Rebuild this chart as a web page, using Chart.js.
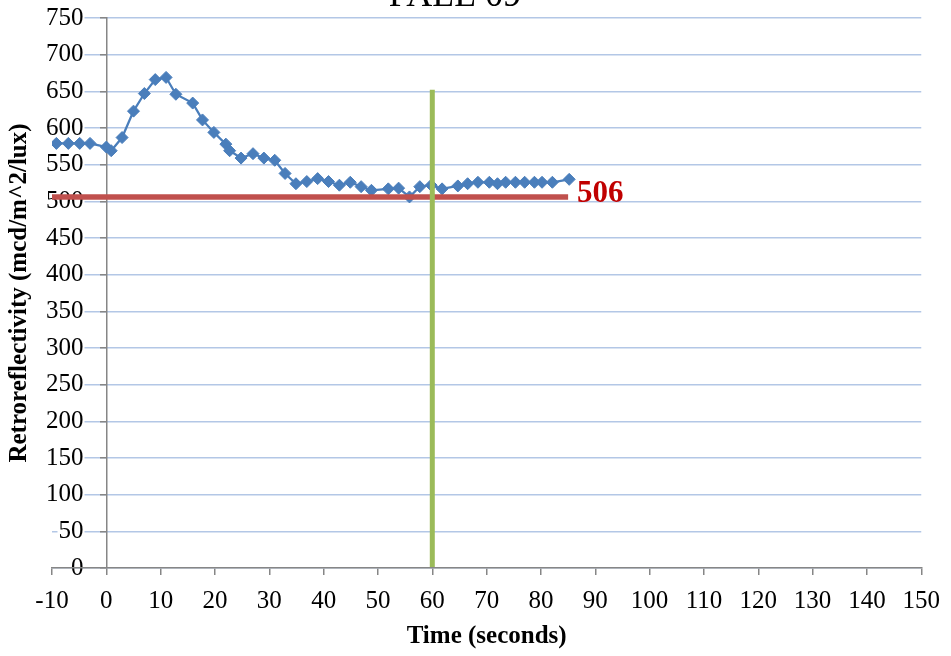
<!DOCTYPE html>
<html>
<head>
<meta charset="utf-8">
<script src="https://cdn.jsdelivr.net/npm/chart.js@4/dist/chart.umd.min.js"></script>
<style>
html,body{margin:0;padding:0;background:#fff;}
#wrap{width:951px;height:656px;position:relative;overflow:hidden;}
canvas{display:block;}
</style>
</head>
<body>
<div id="wrap"><canvas id="c" width="951" height="656"></canvas></div>
<script>
const chartTitle = 'FALL 09';
const xAxisTitle = 'Time (seconds)';
const yAxisTitle = 'Retroreflectivity (mcd/m^2/lux)';

const timeSeconds = [-9.2, -7.0, -4.9, -3.0, 0.0, 0.9, 2.9, 5.0, 7.0, 9.0, 11.0, 12.8,
  15.9, 17.7, 19.8, 22.0, 22.7, 24.8, 27.0, 29.0, 31.0, 32.9, 34.9, 36.9, 38.9,
  40.9, 42.9, 44.9, 46.9, 48.8, 51.9, 53.8, 55.8, 57.7, 59.8, 61.8, 64.7, 66.5,
  68.4, 70.5, 72.0, 73.5, 75.3, 77.0, 78.8, 80.2, 82.1, 85.2];
const retroValues = [579, 579, 579, 579, 574, 569, 587, 623, 647, 666, 669, 646,
  634, 611, 594, 578, 569, 559, 565, 559, 556, 538, 524, 527, 531,
  527, 522, 526, 520, 515, 517, 518, 506, 520, 522, 517, 521, 524,
  526, 526, 524, 526, 526, 526, 526, 526, 526, 530];

const thresholdValue = 506;
const thresholdTimes = [-10, 85];
const cutoffTime = 60;
const cutoffRange = [0, 652];

const xTickValues = [-10, 0, 10, 20, 30, 40, 50, 60, 70, 80, 90, 100, 110, 120, 130, 140, 150];
const yTickValues = [0, 50, 100, 150, 200, 250, 300, 350, 400, 450, 500, 550, 600, 650, 700, 750];

const FONT = "'Liberation Serif', 'Times New Roman', serif";
Chart.defaults.font.family = FONT;
Chart.defaults.color = '#000';

const annotations = {
  id: 'annotations',
  afterDatasetsDraw(chart) {
    const {ctx, scales: {x, y}} = chart;
    ctx.save();
    ctx.fillStyle = '#000';
    ctx.font = "36px " + FONT;
    ctx.textAlign = 'center';
    ctx.textBaseline = 'alphabetic';
    ctx.fillText(chartTitle, 455, 6);
    ctx.fillStyle = '#c00000';
    ctx.font = "bold 31px " + FONT;
    ctx.textAlign = 'left';
    ctx.textBaseline = 'middle';
    ctx.fillText(String(thresholdValue), x.getPixelForValue(thresholdTimes[1]) + 9, y.getPixelForValue(thresholdValue) - 3);
    ctx.restore();
  }
};

new Chart(document.getElementById('c'), {
  type: 'scatter',
  data: {
    datasets: [
      {
        label: 'cutoff',
        data: cutoffRange.map(v => ({x: cutoffTime, y: v})),
        showLine: true, borderColor: '#9bbb59', borderWidth: 5,
        pointRadius: 0, order: 0, xAxisID: 'x', yAxisID: 'y'
      },
      {
        label: 'threshold',
        data: thresholdTimes.map(t => ({x: t, y: thresholdValue})),
        showLine: true, borderColor: '#c0504d', borderWidth: 5.5,
        pointRadius: 0, order: 1, xAxisID: 'x', yAxisID: 'y'
      },
      {
        label: 'retro',
        data: timeSeconds.map((t, i) => ({x: t, y: retroValues[i]})),
        showLine: true, borderColor: '#4a7ebb', borderWidth: 2.25,
        pointStyle: 'rectRot', pointRadius: 6,
        pointBackgroundColor: '#4a7ebb', pointBorderColor: '#4a7ebb', pointBorderWidth: 1,
        order: 2, xAxisID: 'x', yAxisID: 'y'
      }
    ]
  },
  options: {
    responsive: false,
    animation: false,
    layout: {padding: {left: 0, top: 18, right: 25, bottom: 0}},
    plugins: {legend: {display: false}, tooltip: {enabled: false}},
    scales: {
      x: {
        type: 'linear', position: 'bottom', min: -10, max: 150,
        afterBuildTicks: s => { s.ticks = xTickValues.map(v => ({value: v})); },
        afterFit: s => { s.height = 88; },
        grid: {drawOnChartArea: false, drawTicks: true, tickLength: 7, tickColor: '#868686', lineWidth: 1.5},
        border: {color: '#868686', width: 1.5, z: 1},
        ticks: {font: {size: 25}, padding: 11, color: '#000', maxRotation: 0, autoSkip: false},
        title: {display: true, text: xAxisTitle, font: {size: 25, weight: 'bold'}, padding: {top: 0, bottom: 4}, color: '#000'}
      },
      y: {
        type: 'linear', position: {x: 0}, min: 0, max: 750,
        afterBuildTicks: s => { s.ticks = yTickValues.map(v => ({value: v})); },
        grid: {color: '#b3c7e6', lineWidth: 1.5, tickLength: 6, tickColor: '#868686'},
        border: {color: '#868686', width: 1.5},
        ticks: {display: false}
      },
      yl: {
        type: 'linear', position: 'left', min: 0, max: 750,
        afterBuildTicks: s => { s.ticks = yTickValues.map(v => ({value: v})); },
        afterFit: s => { s.width = 52; },
        grid: {display: false, drawTicks: false},
        border: {display: false},
        ticks: {
          font: {size: 25}, mirror: true, crossAlign: 'far', padding: -6, color: '#000',
          showLabelBackdrop: true,
          backdropColor: c => (c.tick && c.tick.value === 0) ? 'rgba(255,255,255,0)' : '#fff',
          backdropPadding: 1
        },
        title: {display: true, text: yAxisTitle, font: {size: 25, weight: 'bold'}, padding: {top: 5, bottom: 0}, color: '#000'}
      }
    }
  },
  plugins: [annotations]
});
</script>
</body>
</html>
